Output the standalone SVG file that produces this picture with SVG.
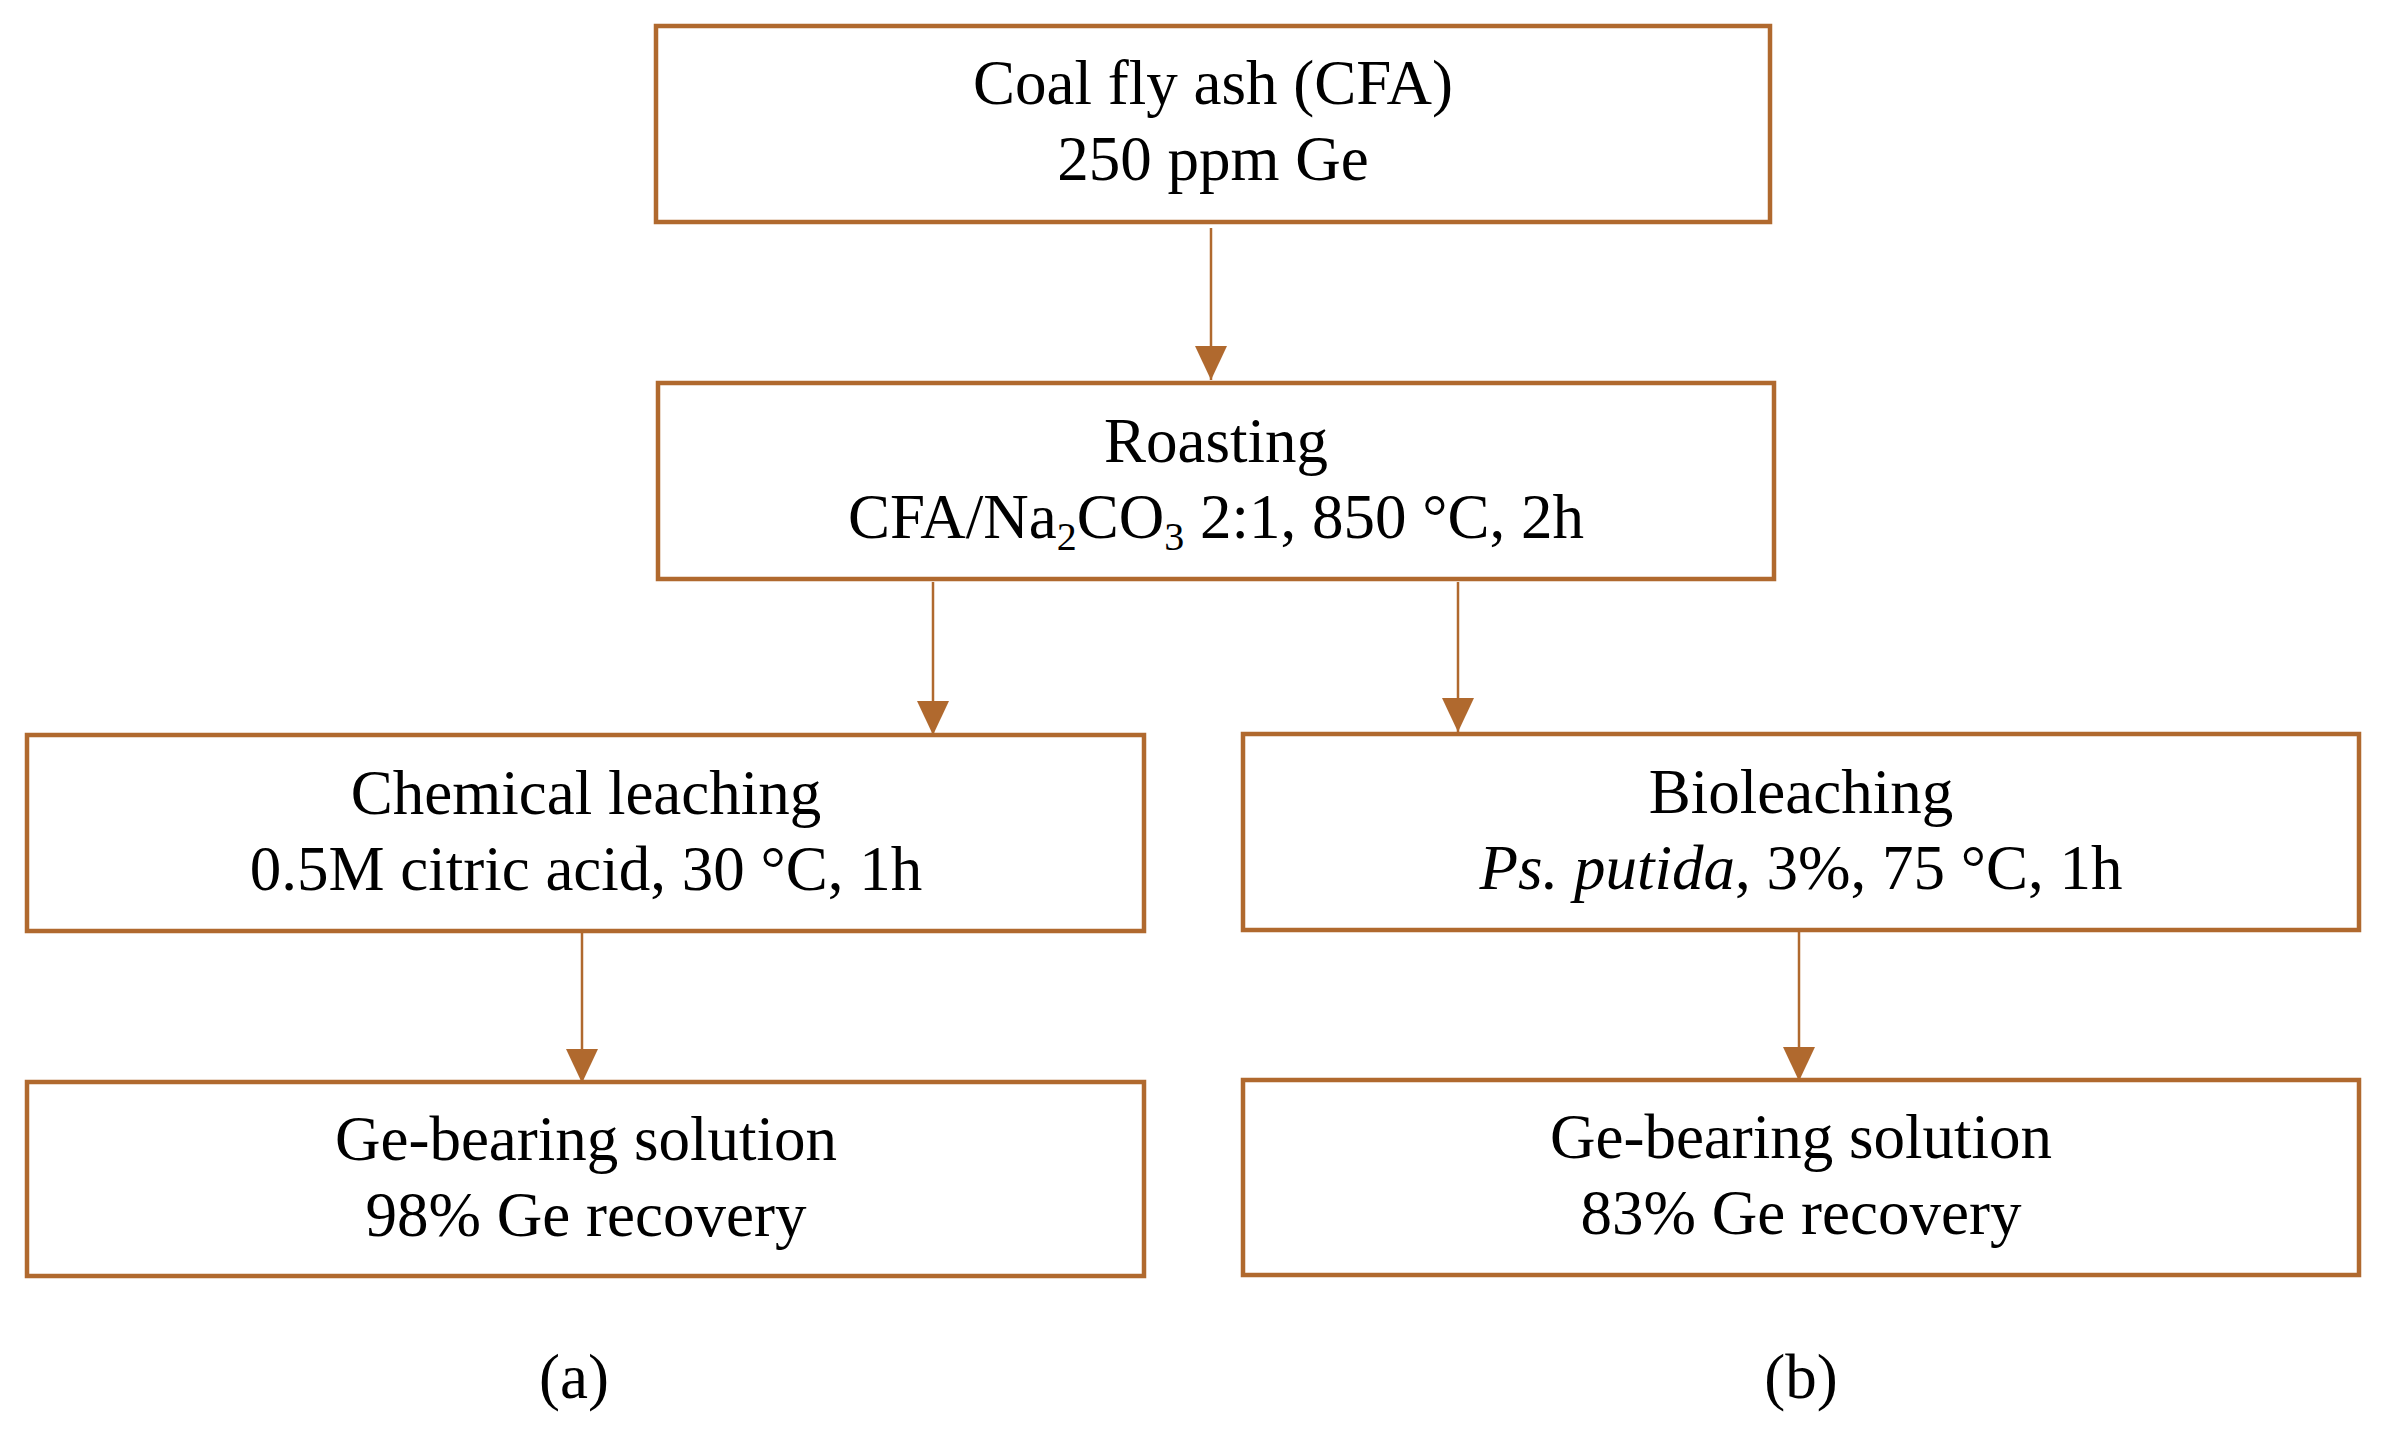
<svg xmlns="http://www.w3.org/2000/svg" width="2382" height="1448" viewBox="0 0 2382 1448">
<style>
.b{fill:#fff;stroke:#B0692E;stroke-width:4.5}
.t{font-family:"Liberation Serif",serif;font-size:63px;fill:#000;text-anchor:middle}
.c line{stroke:#B0692E;stroke-width:2.5}
</style>
<defs><marker id="a" markerWidth="10" markerHeight="12" refX="5" refY="12" orient="auto-start-reverse" markerUnits="userSpaceOnUse" viewBox="0 0 10 12"><path d="M0,0L10,0L5,12Z" fill="#B0692E" transform="scale(1)"/></marker>
<marker id="m" markerWidth="32" markerHeight="34" refX="16" refY="34" markerUnits="userSpaceOnUse"><path d="M0,0L32,0L16,34Z" fill="#B0692E"/></marker></defs>
<rect width="2382" height="1448" fill="#fff"/>
<g class="c">
<line x1="1211" y1="228" x2="1211" y2="380" marker-end="url(#m)"/>
<line x1="933" y1="582" x2="933" y2="735" marker-end="url(#m)"/>
<line x1="1458" y1="582" x2="1458" y2="732" marker-end="url(#m)"/>
<line x1="582" y1="933" x2="582" y2="1083" marker-end="url(#m)"/>
<line x1="1799" y1="932" x2="1799" y2="1081" marker-end="url(#m)"/>
</g>
<g id="n1"><rect class="b" x="656" y="26" width="1114" height="196"/><text class="t" x="1213" y="104">Coal fly ash (CFA)</text><text class="t" x="1213" y="180">250 ppm Ge</text></g>
<g id="n2"><rect class="b" x="658" y="383" width="1116" height="196"/><text class="t" x="1216" y="462">Roasting</text><text class="t" x="1216" y="538">CFA/Na<tspan font-size="40" dy="12">2</tspan><tspan dy="-12">CO</tspan><tspan font-size="40" dy="12">3</tspan><tspan dy="-12"> 2:1, 850 °C, 2h</tspan></text></g>
<g id="n3"><rect class="b" x="27" y="735" width="1117" height="196"/><text class="t" x="586" y="814">Chemical leaching</text><text class="t" x="586" y="890">0.5M citric acid, 30 °C, 1h</text></g>
<g id="n4"><rect class="b" x="1243" y="734" width="1116" height="196"/><text class="t" x="1801" y="813">Bioleaching</text><text class="t" x="1801" y="889"><tspan font-style="italic">Ps. putida</tspan>, 3%, 75 °C, 1h</text></g>
<g id="n5"><rect class="b" x="27" y="1082" width="1117" height="194"/><text class="t" x="586" y="1160">Ge-bearing solution</text><text class="t" x="586" y="1236">98% Ge recovery</text></g>
<g id="n6"><rect class="b" x="1243" y="1080" width="1116" height="195"/><text class="t" x="1801" y="1158">Ge-bearing solution</text><text class="t" x="1801" y="1234">83% Ge recovery</text></g>
<text class="t" x="574" y="1398" font-size="70">(a)</text>
<text class="t" x="1801" y="1398" font-size="70">(b)</text>
</svg>
